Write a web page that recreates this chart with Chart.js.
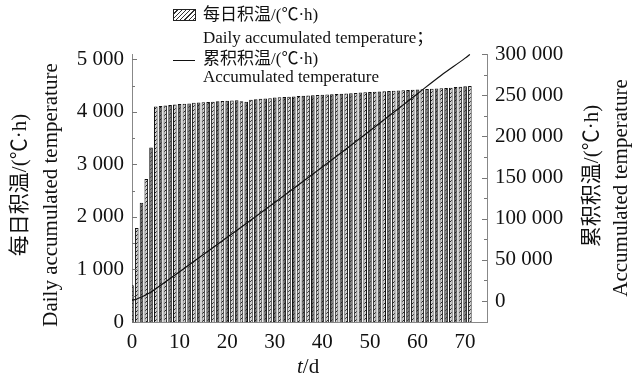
<!DOCTYPE html>
<html>
<head>
<meta charset="utf-8">
<script src="https://cdn.jsdelivr.net/npm/chart.js@4/dist/chart.umd.min.js"></script>
<style>
    body { margin: 0; background: #fff; }
    #wrap { position: relative; width: 633px; height: 378px; font-family: "Liberation Serif", "Noto Sans CJK SC", serif; color: #111; }
    #wrap canvas { position: absolute; left: 0; top: 0; }
    .txt { position: absolute; white-space: nowrap; line-height: 1; }
    .rot { transform: translate(-50%, -50%) rotate(-90deg); font-size: 21px; }
    .leg { font-size: 17px; }
    .hatch { position: absolute; width: 21px; height: 10px; border: 1px solid #222;
        background: repeating-linear-gradient(135deg, #fff 0 2px, #333 2px 3px); }
</style>
</head>
<body>
<div id="wrap">
    <canvas id="grafica" width="633" height="378"></canvas>

    <!-- leyenda -->
    <div class="hatch" style="left:173px; top:9px;"></div>
    <div class="txt leg" style="left:203px; top:6px;">每日积温/(℃·h)</div>
    <div class="txt leg" style="left:203px; top:29px;">Daily accumulated temperature；</div>
    <div style="position:absolute; left:173px; top:60px; width:22px; height:1px; background:#111;"></div>
    <div class="txt leg" style="left:203px; top:50px;">累积积温/(℃·h)</div>
    <div class="txt leg" style="left:203px; top:68px;">Accumulated temperature</div>

    <!-- titulos de ejes -->
    <div class="txt rot" style="left:19px; top:185px;">每日积温/(℃·h)</div>
    <div class="txt rot" style="left:50px; top:195px;">Daily accumulated temperature</div>
    <div class="txt rot" style="left:591px; top:176px;">累积积温/(℃·h)</div>
    <div class="txt rot" style="left:620px; top:188px;">Accumulated temperature</div>
    <div class="txt" style="left:297px; top:356px; font-size:21px;"><i>t</i>/d</div>
</div>

<script>
// Datos
const dias = [0, 1, 2, 3, 4, 5, 6, 7, 8, 9, 10, 11, 12, 13, 14, 15, 16, 17, 18, 19, 20, 21, 22, 23,
    24, 25, 26, 27, 28, 29, 30, 31, 32, 33, 34, 35, 36, 37, 38, 39, 40, 41, 42, 43, 44, 45, 46, 47,
    48, 49, 50, 51, 52, 53, 54, 55, 56, 57, 58, 59, 60, 61, 62, 63, 64, 65, 66, 67, 68, 69, 70, 71];
const tempDiaria = [700, 1790, 2270, 2720, 3320, 4100, 4110, 4120, 4130, 4140, 4150, 4155, 4160, 4170,
    4175, 4180, 4185, 4190, 4200, 4205, 4210, 4215, 4220, 4200, 4190, 4230, 4240, 4250, 4255, 4260,
    4270, 4275, 4280, 4285, 4290, 4300, 4305, 4310, 4315, 4320, 4325, 4330, 4335, 4340, 4345, 4350,
    4355, 4360, 4365, 4370, 4375, 4380, 4385, 4390, 4395, 4400, 4405, 4410, 4415, 4420, 4425, 4430,
    4435, 4440, 4445, 4450, 4455, 4460, 4470, 4475, 4485, 4490];
const diasAcum = [0, 1, 2, 3, 4, 5, 10, 15, 20, 25, 30, 35, 40, 45, 50, 55, 60, 65, 70, 71];
const tempAcumulada = [700, 2500, 4800, 7500, 10800, 14900, 35600, 56400, 77400, 98300, 119600,
    141100, 162800, 184700, 206900, 229300, 251800, 274200, 295000, 299500];
const ticksX = [0, 10, 20, 30, 40, 50, 60, 70];
const ticksIzq = [0, 1000, 2000, 3000, 4000, 5000];
const ticksDer = [0, 50000, 100000, 150000, 200000, 250000, 300000];

const fuente = { family: '"Liberation Serif", "Noto Sans CJK SC", serif', size: 21 };

function formatoMiles(v) {
    return Math.round(v).toString().replace(/\B(?=(\d{3})+(?!\d))/g, ' ');
}

function crearTrama(fondo) {
    const c = document.createElement('canvas');
    c.width = 4; c.height = 4;
    const g = c.getContext('2d');
    g.fillStyle = fondo;
    g.fillRect(0, 0, 4, 4);
    g.strokeStyle = '#222';
    g.lineWidth = 1;
    g.beginPath();
    g.moveTo(0, 4); g.lineTo(4, 0);
    g.stroke();
    return g.createPattern(c, 'repeat');
}

// marcas hacia adentro en los ejes Y
const marcasInternas = {
    id: 'marcasInternas',
    afterDraw(chart) {
        const ctx = chart.ctx;
        const area = chart.chartArea;
        ctx.save();
        ctx.strokeStyle = '#777';
        ctx.lineWidth = 1;
        const dibujar = (scale, x, dir, paso, max) => {
            for (let v = 0; v <= max; v += paso / 2) {
                const y = Math.round(scale.getPixelForValue(v)) + 0.5;
                const largo = (v % paso === 0) ? 5 : 3;
                ctx.beginPath();
                ctx.moveTo(x, y);
                ctx.lineTo(x + dir * largo, y);
                ctx.stroke();
            }
        };
        dibujar(chart.scales.y, area.left, 1, 1000, 5000);
        dibujar(chart.scales.y1, area.right, -1, 50000, 300000);
        ctx.restore();
    }
};

const oscuro = crearTrama('#6e6e6e');
const claro = crearTrama('#d2d2d2');

new Chart(document.getElementById('grafica'), {
    type: 'bar',
    data: {
        datasets: [{
            type: 'line',
            label: 'Accumulated temperature',
            data: diasAcum.map((d, i) => ({ x: d, y: tempAcumulada[i] })),
            yAxisID: 'y1',
            borderColor: '#111',
            borderWidth: 1.2,
            pointRadius: 0,
            cubicInterpolationMode: 'monotone',
            order: 0
        }, {
            label: 'Daily accumulated temperature',
            data: dias.map((d, i) => ({ x: d, y: tempDiaria[i] })),
            yAxisID: 'y',
            backgroundColor: ctx => (ctx.dataIndex % 2 === 0 ? oscuro : claro),
            borderColor: '#111',
            borderWidth: 1,
            barPercentage: 0.76,
            categoryPercentage: 1,
            order: 1
        }]
    },
    options: {
        responsive: false,
        devicePixelRatio: 1,
        animation: false,
        layout: { padding: { top: 54, left: 0, right: 0, bottom: 0 } },
        plugins: { legend: { display: false }, tooltip: { enabled: false } },
        scales: {
            x: {
                type: 'linear',
                offset: false,
                min: 0,
                max: 74.6,
                grid: { display: false, offset: false, drawTicks: false },
                border: { display: true, color: '#888' },
                afterBuildTicks: s => { s.ticks = ticksX.map(v => ({ value: v })); },
                afterFit: s => { s.height = 56; },
                ticks: { color: '#111', font: fuente, padding: 8, maxRotation: 0 }
            },
            y: {
                position: 'left',
                min: 0,
                max: 5100,
                grid: { display: false, drawTicks: false },
                border: { display: true, color: '#888' },
                afterBuildTicks: s => { s.ticks = ticksIzq.map(v => ({ value: v })); },
                afterFit: s => { s.width = 132; },
                ticks: { color: '#111', font: fuente, padding: 8, callback: v => formatoMiles(v) }
            },
            y1: {
                position: 'right',
                min: -25500,
                max: 300000,
                grid: { display: false, drawTicks: false },
                border: { display: true, color: '#888' },
                afterBuildTicks: s => { s.ticks = ticksDer.map(v => ({ value: v })); },
                afterFit: s => { s.width = 146; },
                ticks: { color: '#111', font: fuente, padding: 8, callback: v => formatoMiles(v) }
            }
        }
    },
    plugins: [marcasInternas]
});
</script>
</body>
</html>
